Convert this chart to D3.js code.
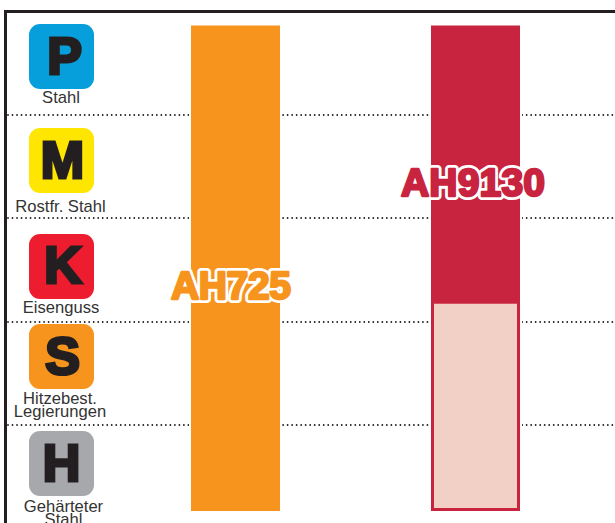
<!DOCTYPE html>
<html><head><meta charset="utf-8">
<script src="https://cdn.jsdelivr.net/npm/d3@7"></script>
<style>html,body{margin:0;background:#fff;overflow:hidden}svg{display:block}text{font-family:"Liberation Sans",Arial,sans-serif}</style>
</head><body><svg id="c" width="615" height="523"></svg>
<script>
const codes = ["P","M","K","S","H"];
const tileColors = ["#069fdb","#ffe600","#ed1c2e","#f7941d","#a7a8ac"];
const materialLabels = [["Stahl"],["Rostfr. Stahl"],["Eisenguss"],["Hitzebest.","Legierungen"],["Gehärteter","Stahl"]];
const grades = ["AH725","AH9130"];
const gradeColors = ["#f7941d","#c8243f"];
const solidStart = [0,0];
const solidEnd = [100,57];
const lightStart = [null,57];
const lightEnd = [null,100];

const W=615,H=523;
const svg=d3.select("#c");
const yBand=d3.scaleBand().domain(codes).range([11.8,528.3]);
const xs=d3.scaleOrdinal().domain(grades).range([191,431]);
const bw=89;
const y=d3.scaleLinear().domain([0,100]).range([25.5,511]);

// dotted separators
svg.append("g").selectAll("line").data(codes.slice(1)).join("line")
  .attr("x1",8).attr("x2",W)
  .attr("y1",d=>Math.round(yBand(d))).attr("y2",d=>Math.round(yBand(d)))
  .attr("stroke","#231f20").attr("stroke-width",1.8).attr("stroke-linecap","round").attr("stroke-dasharray","0.01 4.5");

// frame
svg.append("path").attr("d",`M5.5 ${H}V11.5H${W}`).attr("fill","none").attr("stroke","#231f20").attr("stroke-width",3);

// tiles
const tileTop=[24,128,234,324,431];
const labelY=[[103],[211.5],[313],[404],[512]];
const labelStep=13;
const labelX=[61,60.5,61,60,63.5];
const capBase=[75,179,284,375,482];
const capX=[64.5,62.5,63,62.5,61.5];
const g=svg.append("g").selectAll("g").data(codes).join("g");
g.append("rect").attr("x",29).attr("width",65).attr("height",65).attr("rx",11)
  .attr("y",(d,i)=>tileTop[i]).attr("fill",(d,i)=>tileColors[i]);
g.append("text").attr("x",(d,i)=>capX[i]).attr("y",(d,i)=>capBase[i]-1).attr("text-anchor","middle")
  .attr("font-size",52).attr("font-weight",700).attr("fill","#231f20")
  .attr("stroke","#231f20").attr("stroke-width",3.2).attr("stroke-linejoin","miter").text(d=>d);
g.each(function(d,i){
  d3.select(this).selectAll(".l").data(materialLabels[i]).join("text").attr("class","l")
   .attr("x",labelX[i]).attr("y",(t,j)=>labelY[i][0]+j*labelStep).attr("text-anchor","middle")
   .attr("font-size",16.6).attr("fill","#333").text(t=>t);
});

// bars
const bars=svg.append("g").selectAll("g").data(grades).join("g");
bars.append("rect").attr("x",d=>xs(d)-2).attr("width",bw+4)
  .attr("y",y(0)).attr("height",y(100)-y(0)).attr("fill","#fff");
bars.append("rect").attr("x",d=>xs(d)).attr("width",bw)
  .attr("y",(d,i)=>y(solidStart[i])).attr("height",(d,i)=>y(solidEnd[i])-y(solidStart[i]))
  .attr("fill",(d,i)=>gradeColors[i]);
bars.filter((d,i)=>lightStart[i]!==null).append("rect")
  .attr("x",d=>xs(d)+1.5).attr("width",bw-3)
  .attr("y",y(57)).attr("height",y(100)-y(57)-1.5)
  .attr("fill","#f2d0c6").attr("stroke","#c8243f").attr("stroke-width",3);

// grade labels
const labelPos=[[231,299],[473,196]];
const lengths=[120,144];
function gradeText(sel){
  return sel.attr("x",(d,i)=>labelPos[i][0]).attr("y",(d,i)=>labelPos[i][1]).attr("text-anchor","middle")
  .attr("font-size",39).attr("font-weight",700).attr("stroke-linejoin","round")
  .attr("textLength",(d,i)=>lengths[i]).attr("lengthAdjust","spacing").text(d=>d);
}
svg.append("g").selectAll("text").data(grades).join("text").call(gradeText)
  .attr("fill","#fff").attr("stroke","#fff").attr("stroke-width",8);
svg.append("g").selectAll("text").data(grades).join("text").call(gradeText)
  .attr("fill",(d,i)=>gradeColors[i]).attr("stroke",(d,i)=>gradeColors[i]).attr("stroke-width",2.4);
</script></body></html>
